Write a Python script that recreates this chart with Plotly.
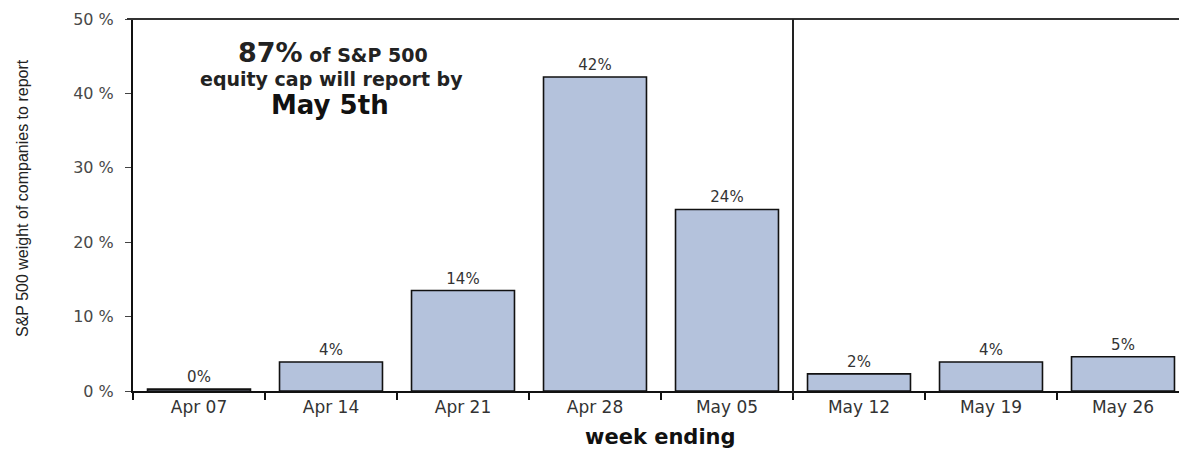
import plotly.graph_objects as go

weeks = ["Apr 07", "Apr 14", "Apr 21", "Apr 28", "May 05", "May 12", "May 19", "May 26"]
weights = [0.25, 3.9, 13.5, 42.2, 24.4, 2.3, 3.9, 4.6]
labels = ["0%", "4%", "14%", "42%", "24%", "2%", "4%", "5%"]
y_ticks = [0, 10, 20, 30, 40, 50]
y_tick_text = ["0 %", "10 %", "20 %", "30 %", "40 %", "50 %"]

FONT = "DejaVu Sans, Liberation Sans, Arial, sans-serif"
# page body has an 8px margin, so figure coords = page coords - 8
OFF = 8
W, H = 1187, 450
L, T, BOT = 133 - OFF, 19 - OFF, 391 - OFF
R = W - (1189 - OFF)
PLOT_W = W - L - R
PLOT_H = BOT - T


def px(xpage):
    return (xpage - OFF - L) / PLOT_W


def py(ypage):
    return (BOT - (ypage - OFF)) / PLOT_H


fig = go.Figure()
fig.add_trace(go.Bar(
    x=weeks, y=weights, text=labels, textposition="outside",
    textfont=dict(family=FONT, size=15, color="#333333"),
    marker=dict(color="#b4c2dc", line=dict(color="#111111", width=1.6)),
    cliponaxis=False, width=0.78,
))

fig.update_layout(
    width=W, height=H,
    margin=dict(l=L, r=R, t=T, b=H - BOT),
    paper_bgcolor="white", plot_bgcolor="white",
    showlegend=False,
    font=dict(family=FONT, color="#333333"),
    xaxis=dict(
        type="category", range=[-0.5, 7.5], automargin=False,
        showline=True, linecolor="#111111", linewidth=2,
        ticks="outside", tickson="boundaries", ticklen=7, tickcolor="#111111", tickwidth=2,
        tickfont=dict(family=FONT, size=17, color="#333333"),
        showgrid=False, zeroline=False,
    ),
    yaxis=dict(
        range=[0, 50], tickvals=y_ticks, ticktext=y_tick_text, automargin=False,
        showline=True, linecolor="#111111", linewidth=2,
        ticks="outside", ticklen=6, tickcolor="#444444", ticklabelstandoff=8,
        tickfont=dict(family=FONT, size=16, color="#484848"),
        showgrid=False, zeroline=False,
    ),
    shapes=[
        dict(type="line", xref="paper", yref="paper", x0=-6 / PLOT_W, x1=1, y0=1, y1=1,
             line=dict(color="#333333", width=2)),
        dict(type="line", xref="x", yref="paper", x0=4.5, x1=4.5, y0=-0.015, y1=1,
             line=dict(color="#222222", width=2)),
    ],
    annotations=[
        dict(xref="paper", yref="paper", x=px(22), y=py(198), xanchor="center", yanchor="middle",
             showarrow=False, textangle=-90, text="S&P 500 weight of companies to report",
             font=dict(family="Liberation Sans Narrow, Liberation Sans, Arial, sans-serif", size=16, color="#222222")),
        dict(xref="paper", yref="paper", x=px(660), y=py(437), xanchor="center", yanchor="middle",
             showarrow=False, text="<b>week ending</b>",
             font=dict(family=FONT, size=21, color="#111111")),
        dict(xref="paper", yref="paper", x=px(333), y=py(52), xanchor="center", yanchor="middle",
             showarrow=False, align="center",
             text="<span style='font-size:27px'><b>87%</b></span><span style='font-size:19px'><b> of S&P 500</b></span>",
             font=dict(family=FONT, color="#222222")),
        dict(xref="paper", yref="paper", x=px(331), y=py(79), xanchor="center", yanchor="middle",
             showarrow=False, text="<b>equity cap will report by</b>",
             font=dict(family=FONT, size=19, color="#222222")),
        dict(xref="paper", yref="paper", x=px(330), y=py(105), xanchor="center", yanchor="middle",
             showarrow=False, text="<b>May 5th</b>",
             font=dict(family=FONT, size=26, color="#111111")),
    ],
)

fig.write_html("out.html")
